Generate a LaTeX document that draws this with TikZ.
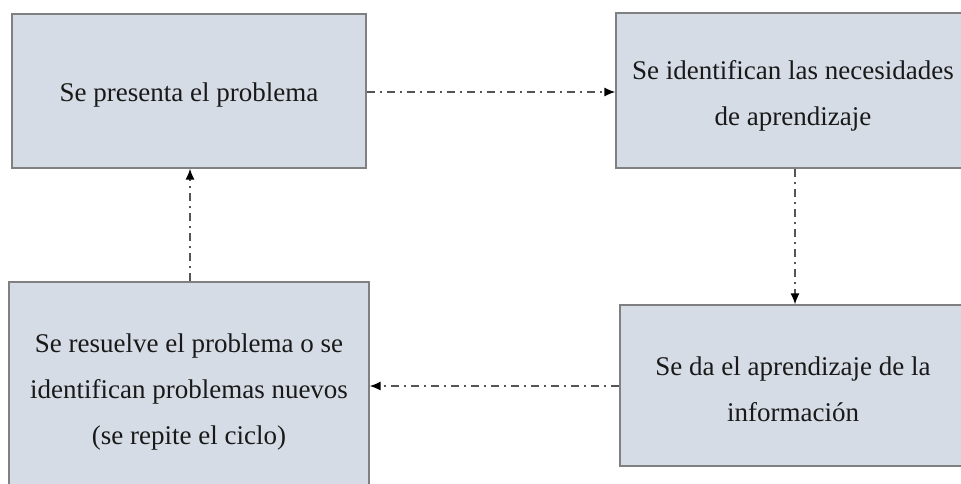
\documentclass[tikz,border=0pt]{standalone}
\usepackage{fontspec}
\setmainfont{Liberation Serif}
\usetikzlibrary{arrows.meta}
\definecolor{boxfill}{HTML}{D6DCE5}
\definecolor{boxline}{HTML}{808080}
\definecolor{linkcol}{HTML}{555555}
\tikzset{
  stepbox/.style={draw=boxline, line width=1.2pt, fill=boxfill, rectangle, inner sep=0pt},
  steptext/.style={align=center, inner sep=0pt, font=\fontsize{27}{46}\selectfont, text=black!90},
  link/.style={draw=linkcol, line width=1.5pt, dash pattern=on 8pt off 5pt on 2pt off 5pt,
    -{Latex[length=11pt,width=9pt,color=black]}, shorten >=0pt}
}
\begin{document}
\begin{tikzpicture}[x=1pt,y=-1pt]
\useasboundingbox (0,0) rectangle (961,484);
\clip (0,0) rectangle (961,484);
\node[stepbox, minimum width=354pt, minimum height=154pt] (a) at (189,91) {};
\node[steptext] (at) at ([yshift=-4pt]a.center) {Se presenta el problema};
\node[stepbox, minimum width=354pt, minimum height=155pt] (b) at (793,90.5) {};
\node[steptext] (bt) at ([yshift=-5pt]b.center) {Se identifican las necesidades\\de aprendizaje};
\node[stepbox, minimum width=346pt, minimum height=161pt] (c) at (793,385.5) {};
\node[steptext] (ct) at ([yshift=-3.5pt]c.center) {Se da el aprendizaje de la\\informaci\'on};
\node[stepbox, minimum width=360pt, minimum height=216pt] (d) at (189,390) {};
\node[steptext] (dt) at ([yshift=-2pt]d.center) {Se resuelve el problema o se\\identifican problemas nuevos\\(se repite el ciclo)};
\draw[link] (a.east |- 0,92) -- (b.west |- 0,92);
\draw[link] (b.south -| 795,0) -- (c.north -| 795,0);
\draw[link] (c.west |- 0,386) -- (d.east |- 0,386);
\draw[link] (d.north -| 190,0) -- (a.south -| 190,0);
\end{tikzpicture}
\end{document}
